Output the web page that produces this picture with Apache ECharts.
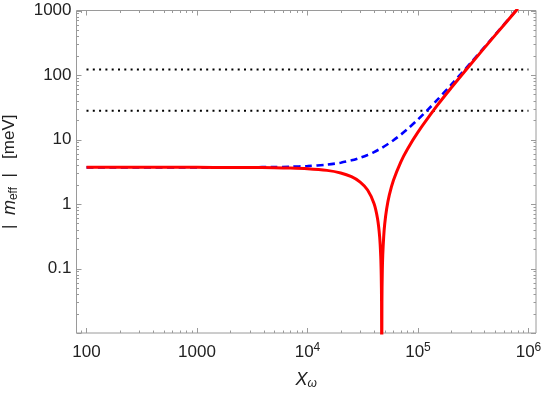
<!DOCTYPE html>
<html>
<head>
<meta charset="utf-8">
<script src="https://cdn.jsdelivr.net/npm/echarts@6/dist/echarts.min.js"></script>
<style>html,body{margin:0;padding:0;background:#fff}#c{width:545px;height:393px}</style>
</head>
<body>
<div id="c"></div>
<script>
// ---- data ----
const redX = [100, 300, 1000, 2000, 3000, 5000, 7000, 10000, 15000, 20000, 25000, 30000, 35000, 40000, 43000, 45000, 46000, 46500, 46800, 47000, 47200, 47500, 48000, 49000, 50000, 52000, 55000, 60000, 70000, 80000, 100000, 150000, 200000, 300000, 500000, 800000];
const redY = [3.7, 3.7, 3.7, 3.69, 3.685, 3.66, 3.62, 3.53, 3.32, 3.03, 2.65, 2.19, 1.65, 1.02, 0.60, 0.31, 0.156, 0.078, 0.031, 0.001, 0.032, 0.079, 0.159, 0.32, 0.49, 0.83, 1.37, 2.33, 4.51, 7.02, 13.0, 34.0, 63.3, 147, 415, 1068];
const blueX = [100, 1000, 2000, 3000, 5000, 7000, 10000, 15000, 20000, 25000, 30000, 35000, 40000, 47000, 55000, 60000, 70000, 80000, 100000, 120000, 150000, 200000, 300000, 500000, 800000];
const blueY = [3.7, 3.7, 3.71, 3.715, 3.74, 3.78, 3.87, 4.08, 4.37, 4.75, 5.21, 5.75, 6.38, 7.4, 8.77, 9.73, 11.9, 14.4, 20.45, 27.8, 41.4, 70.7, 154, 422, 1076];
const dotLevels = [122, 28];
const dotXRange = [100, 1000000];
const xMajorExp = [2, 3, 4, 5, 6];
const yMajorExp = [-1, 0, 1, 2, 3];
const xRange = [81.2, 1170000];
const yRange = [0.01, 1000];

// ---- helpers ----
const L = Math.log10;
const toPts = (xs, ys) => xs.map((x, i) => [L(x), L(ys[i])]);
const xMin = L(xRange[0]), xMax = L(xRange[1]);
const yMin = L(yRange[0]), yMax = L(yRange[1]);

function minorList(lo, hi) {
  const out = [];
  for (let e = Math.floor(lo); e <= Math.ceil(hi); e++) {
    for (let k = 2; k <= 9; k++) {
      const v = e + L(k);
      if (v > lo && v < hi) out.push(v);
    }
  }
  return out;
}
const xMinor = minorList(xMin, xMax);
const yMinor = minorList(yMin, yMax);
const yMajorAll = [-2, -1, 0, 1, 2, 3].filter(v => v >= yMin && v <= yMax);

const tickColor = '#9a9a9a';
function renderTicks(params, api) {
  const ch = [];
  const line = (x1, y1, x2, y2) => ch.push({type: 'line', shape: {x1, y1, x2, y2}, style: {stroke: tickColor, lineWidth: 1}});
  const addX = (v, len) => {
    const b = api.coord([v, yMin]); const t = api.coord([v, yMax]);
    const x = Math.round(b[0]) + 0.5;
    line(x, b[1], x, b[1] - len);
    line(x, t[1], x, t[1] + len);
  };
  const addY = (v, len) => {
    const l = api.coord([xMin, v]); const r = api.coord([xMax, v]);
    const y = Math.round(l[1]) + 0.5;
    line(l[0], y, l[0] + len, y);
    line(r[0], y, r[0] - len, y);
  };
  xMajorExp.forEach(v => addX(v, 5));
  xMinor.forEach(v => addX(v, 2.5));
  yMajorAll.forEach(v => addY(v, 5));
  yMinor.forEach(v => addY(v, 2.5));
  return {type: 'group', children: ch};
}

const labelFont = '"Liberation Sans", Arial, sans-serif';
const chart = echarts.init(document.getElementById('c'), null, {renderer: 'canvas'});
const series = [];
dotLevels.forEach(lv => {
  series.push({
    type: 'line', data: [[L(dotXRange[0]), L(lv)], [L(dotXRange[1]), L(lv)]],
    symbol: 'none', silent: true, z: 2,
    lineStyle: {color: '#000', width: 2, type: [2, 4.3], cap: 'butt'}
  });
});
series.push({
  type: 'line', data: toPts(blueX, blueY), symbol: 'none', smooth: 0.3, z: 3, clip: true,
  lineStyle: {color: '#0000ff', width: 2.6, type: [7, 4.5]}
});
series.push({
  type: 'line', data: toPts(redX, redY), symbol: 'none', smooth: 0.3, z: 4, clip: true,
  lineStyle: {color: '#ff0000', width: 3}
});
series.push({
  type: 'custom', data: [0], renderItem: renderTicks, clip: false, silent: true, z: 5
});

chart.setOption({
  animation: false,
  backgroundColor: '#fff',
  grid: {left: 76.5, right: 9, top: 10.5, bottom: 60, containLabel: false, outerBoundsMode: 'none',
         show: true, borderColor: tickColor, borderWidth: 1, backgroundColor: 'transparent'},
  xAxis: {
    type: 'value', min: xMin, max: xMax,
    axisLine: {show: false}, axisTick: {show: false}, splitLine: {show: false},
    axisLabel: {
      customValues: xMajorExp, margin: 9, color: '#222', fontSize: 17, fontFamily: labelFont, lineHeight: 20,
      formatter: v => v === 2 ? '100' : v === 3 ? '1000' : '10{sup|' + v + '}',
      rich: {sup: {fontSize: 12, fontFamily: labelFont, color: '#222', verticalAlign: 'top', lineHeight: 12, padding: [0, 0, 8, 0]}}
    },
    name: '{i|X}{sub|ω}', nameLocation: 'middle', nameGap: 37,
    nameTextStyle: {
      color: '#222', fontSize: 17, fontFamily: labelFont, fontStyle: 'italic', lineHeight: 20,
      rich: {i: {fontSize: 18, fontStyle: 'italic', fontFamily: labelFont, color: '#222'},
             sub: {fontSize: 12, fontStyle: 'italic', fontFamily: labelFont, color: '#222', verticalAlign: 'bottom', lineHeight: 12}}
    }
  },
  yAxis: {
    type: 'value', min: yMin, max: yMax,
    axisLine: {show: false}, axisTick: {show: false}, splitLine: {show: false},
    axisLabel: {
      customValues: yMajorExp, margin: 5, color: '#222', fontSize: 17, fontFamily: labelFont,
      formatter: v => ({'-1': '0.1', '0': '1', '1': '10', '2': '100', '3': '1000'})[String(v)]
    },
    name: '|  {i|m}{sub|eff}  |   [meV]', nameLocation: 'middle', nameGap: 57,
    nameTextStyle: {
      color: '#222', fontSize: 17, fontFamily: labelFont, lineHeight: 20,
      rich: {i: {fontSize: 18, fontStyle: 'italic', fontFamily: labelFont, color: '#222'},
             sub: {fontSize: 12, fontFamily: labelFont, color: '#222', verticalAlign: 'bottom', lineHeight: 12}}
    }
  },
  series: series
});
</script>
</body>
</html>
